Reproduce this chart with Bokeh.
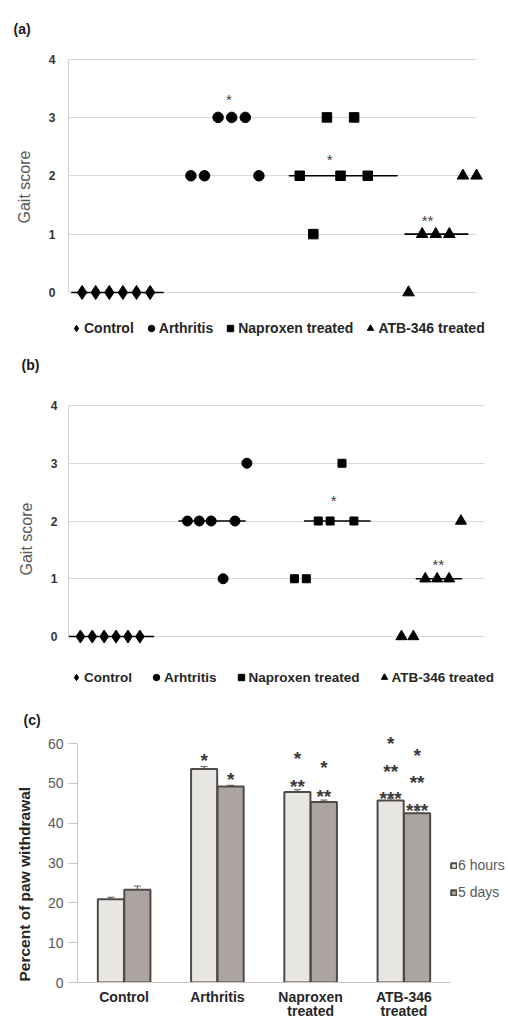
import math
from bokeh.plotting import figure
from bokeh.models import (Legend, LegendItem, FixedTicker, Whisker, TeeHead, Title,
                          ColumnDataSource, Range1d)
from bokeh.layouts import column
from bokeh.core.properties import value
from bokeh.embed import file_html
from bokeh.resources import INLINE

FONT = "Liberation Sans"
GRID = "#d9d9d9"
AXIS = "#d0ccc8"

# ---------------- data: panel (a) ----------------
a_labels = ["Control", "Arthritis", "Naproxen treated", "ATB-346 treated"]
a_control_x = [1, 2, 3, 4, 5, 6]
a_control_y = [0, 0, 0, 0, 0, 0]
a_arthritis_x = [9, 10, 11, 12, 13, 14]
a_arthritis_y = [2, 2, 3, 3, 3, 2]
a_naproxen_x = [17, 18, 19, 20, 21, 22]
a_naproxen_y = [2, 1, 3, 2, 3, 2]
a_atb_x = [25, 26, 27, 28, 29, 30]
a_atb_y = [0, 1, 1, 1, 2, 2]
a_median_y = [0, 2, 1]
a_median_x0 = [0.2, 16.2, 24.7]
a_median_x1 = [7.0, 24.2, 29.4]
a_sig_x = [11.8, 19.2, 26.4]
a_sig_y = [3.35, 2.33, 1.28]
a_sig_text = ["*", "*", "**"]

# ---------------- data: panel (b) ----------------
b_labels = ["Control", "Arhtritis", "Naproxen treated", "ATB-346 treated"]
b_control_x = [1, 2, 3, 4, 5, 6]
b_control_y = [0, 0, 0, 0, 0, 0]
b_arthritis_x = [10, 11, 12, 13, 14, 15]
b_arthritis_y = [2, 2, 2, 1, 2, 3]
b_naproxen_x = [19, 20, 21, 22, 23, 24]
b_naproxen_y = [1, 1, 2, 2, 3, 2]
b_atb_x = [28, 29, 30, 31, 32, 33]
b_atb_y = [0, 0, 1, 1, 1, 2]
b_median_y = [0, 2, 2, 1]
b_median_x0 = [0.0, 9.25, 19.8, 29.2]
b_median_x1 = [7.2, 14.9, 25.4, 33.1]
b_sig_x = [22.3, 31.1]
b_sig_y = [2.4, 1.3]
b_sig_text = ["*", "**"]

# ---------------- data: panel (c) ----------------
c_categories = ["Control", "Arthritis", "Naproxen\ntreated", "ATB-346\ntreated"]
c_series = ["6 hours", "5 days"]
c_6h = [20.9, 53.6, 47.8, 45.7]
c_6h_err = [0.5, 0.6, 0.6, 0.6]
c_5d = [23.3, 49.2, 45.3, 42.5]
c_5d_err = [0.9, 0.3, 0.5, 0.8]
c_sig_6h_text = ["*", "*", "**", "*", "**", "***"]
c_sig_6h_cat = [1, 2, 2, 3, 3, 3]
c_sig_6h_y = [56.8, 57.3, 50.3, 61.1, 54.0, 47.2]
c_sig_5d_text = ["*", "*", "**", "*", "**", "***"]
c_sig_5d_cat = [1, 2, 2, 3, 3, 3]
c_sig_5d_y = [52.0, 55.0, 47.7, 58.0, 51.3, 44.2]

W = 508
LEFT = 68


def style_title(p, offset, standoff):
    t = p.title
    t.align = "left"
    t.offset = offset
    t.standoff = standoff
    t.text_font = FONT
    t.text_font_size = "14px"
    t.text_font_style = "bold"
    t.text_color = "#1a1a1a"


def side_title(p, text, offset, standoff, size, bold, color):
    t = Title(text=text, align="left", offset=offset, standoff=standoff,
              vertical_align="bottom", text_font=FONT, text_font_size=size,
              text_font_style="bold" if bold else "normal", text_color=color)
    p.add_layout(t, "left")


def gait_panel(height, top, xr, yr, xmax, groups, labels, sizes, medians, sig,
               tag, tag_offset, tag_standoff, ylab_offset, ylab_standoff,
               legend_loc, legend_spacing, legend_font, tick_standoff):
    p = figure(width=W, height=height, x_range=Range1d(*xr), y_range=Range1d(*yr),
               min_border_left=LEFT, min_border_right=0, min_border_top=top,
               min_border_bottom=0, x_axis_location=None, toolbar_location=None,
               output_backend="svg", outline_line_color=None, title=tag)
    style_title(p, tag_offset, tag_standoff)
    p.xgrid.visible = False
    ax = p.yaxis[0]
    ax.ticker = FixedTicker(ticks=[0, 1, 2, 3, 4])
    ax.bounds = (0, 4)
    ax.axis_line_color = AXIS
    ax.major_tick_line_color = None
    ax.minor_tick_line_color = None
    ax.major_tick_out = 0
    ax.major_tick_in = 0
    ax.major_label_standoff = tick_standoff
    ax.major_label_text_font = FONT
    ax.major_label_text_font_size = "12px"
    ax.major_label_text_font_style = "bold"
    ax.major_label_text_color = "#333333"
    g = p.ygrid[0]
    g.grid_line_color = GRID
    g.ticker = FixedTicker(ticks=[0, 1, 2, 3, 4])
    if hasattr(g, "cross_bounds"):
        g.cross_bounds = (0, xmax)

    p.segment(x0=medians[1], x1=medians[2], y0=medians[0], y1=medians[0],
              line_color="black", line_width=1.6)
    markers = ["diamond", "circle", "square", "triangle"]
    rends = []
    for (gx, gy), m, s in zip(groups, markers, sizes):
        r = p.scatter(gx, gy, marker=m, size=s, fill_color="black", line_color="black")
        rends.append(r)
    p.text(x=sig[0], y=sig[1], text=sig[2], text_align="center", text_baseline="middle",
           text_font=value(FONT), text_font_size="15px", text_color="#404040", y_offset=3)

    leg = Legend(items=[LegendItem(label=l, renderers=[r]) for l, r in zip(labels, rends)],
                 orientation="horizontal", location=legend_loc, spacing=legend_spacing,
                 padding=0, margin=0, glyph_width=16, glyph_height=16, label_standoff=-2,
                 label_height=16, label_text_font=FONT, label_text_font_size=legend_font,
                 label_text_font_style="bold", label_text_color="#262626",
                 border_line_color=None, background_fill_alpha=0)
    p.add_layout(leg)
    side_title(p, "Gait score", ylab_offset, ylab_standoff, "16px", False, "#595959")
    return p


# panel (a): frame 45..340, y=4 at 58.5, y=0 at 292 ; x=0 at 68, 13.6 px / unit
pa = gait_panel(340, 45, (0, 32.35), (-0.8223, 4.2313), 30,
                [(a_control_x, a_control_y), (a_arthritis_x, a_arthritis_y),
                 (a_naproxen_x, a_naproxen_y), (a_atb_x, a_atb_y)],
                a_labels, [14, 10.5, 9.5, 11.5],
                (a_median_y, a_median_x0, a_median_x1),
                (a_sig_x, a_sig_y, a_sig_text),
                "(a)", -55, 18, 117, 25, (0, 4), 9, "14px", 13)

# panel (b): frame 45..350, y=4 at 65, y=0 at 296 ; x=0 at 68, 11.89 px / unit
pb = gait_panel(350, 45, (0, 37.0), (-0.935, 4.3463), 35,
                [(b_control_x, b_control_y), (b_arthritis_x, b_arthritis_y),
                 (b_naproxen_x, b_naproxen_y), (b_atb_x, b_atb_y)],
                b_labels, [13, 10, 8, 11],
                (b_median_y, b_median_x0, b_median_x1),
                (b_sig_x, b_sig_y, b_sig_text),
                "(b)", -47, 25, 115, 26, (0, 5), 16, "13.5px", 11)

# ---------------- panel (c) ----------------
pc = figure(width=W, height=331, x_range=Range1d(-0.0965, 4.622), y_range=Range1d(0, 63.77),
            min_border_left=LEFT, min_border_right=0, min_border_top=38, min_border_bottom=39,
            toolbar_location=None, output_backend="svg", outline_line_color=None, title="(c)")
style_title(pc, -45, 2)
pc.xgrid.visible = False
pc.ygrid.visible = False

dodge = 0.142
bw = 0.28
x6 = [i + 0.5 - dodge for i in range(len(c_categories))]
x5 = [i + 0.5 + dodge for i in range(len(c_categories))]
r6 = pc.vbar(x=x6, top=c_6h, width=bw, bottom=0, fill_color="#e8e6e3",
             line_color="#4f4a48", line_width=2)
r5 = pc.vbar(x=x5, top=c_5d, width=bw, bottom=0, fill_color="#aca4a0",
             line_color="#4f4a48", line_width=2)
for xs, vals, errs in ((x6, c_6h, c_6h_err), (x5, c_5d, c_5d_err)):
    src = ColumnDataSource(dict(base=xs, upper=[v + e for v, e in zip(vals, errs)],
                                lower=[v - e for v, e in zip(vals, errs)]))
    pc.add_layout(Whisker(source=src, base="base", upper="upper", lower="lower",
                          line_color="#555555", line_width=1,
                          upper_head=TeeHead(size=7, line_color="#555555", line_width=1),
                          lower_head=TeeHead(size=7, line_color="#555555", line_width=1)))

pc.text(x=[x6[i] for i in c_sig_6h_cat], y=c_sig_6h_y, text=c_sig_6h_text,
        text_align="center", text_baseline="middle", text_font=value(FONT),
        text_font_size="19px", text_font_style="bold", text_color="#3a3a3a", y_offset=4)
pc.text(x=[x5[i] for i in c_sig_5d_cat], y=c_sig_5d_y, text=c_sig_5d_text,
        text_align="center", text_baseline="middle", text_font=value(FONT),
        text_font_size="19px", text_font_style="bold", text_color="#3a3a3a", y_offset=4)

c_ticks = [0, 10, 20, 30, 40, 50, 60]
# value axis line (drawn at x = 0, where the category axis starts)
pc.segment(x0=[0], x1=[0], y0=[min(c_ticks)], y1=[max(c_ticks)], line_color="#cbc4c0",
           line_width=1)

yax = pc.yaxis[0]
yax.ticker = FixedTicker(ticks=c_ticks)
yax.bounds = (0, 60)
yax.axis_line_color = None
yax.major_tick_line_color = "#cbc4c0"
yax.major_tick_out = 0
yax.major_tick_in = 9
yax.minor_tick_line_color = None
yax.major_label_standoff = 5
yax.major_label_text_font = FONT
yax.major_label_text_font_size = "14px"
yax.major_label_text_color = "#595959"

xax = pc.xaxis[0]
xax.ticker = FixedTicker(ticks=[i + 0.5 for i in range(len(c_categories))])
xax.major_label_overrides = {i + 0.5: c for i, c in enumerate(c_categories)}
xax.bounds = (0, 4)
xax.axis_line_color = "#cbc4c0"
xax.major_tick_line_color = None
xax.minor_tick_line_color = None
xax.major_tick_out = 0
xax.major_tick_in = 0
xax.major_label_standoff = 6
xax.major_label_text_font = FONT
xax.major_label_text_font_size = "14px"
xax.major_label_text_font_style = "bold"
xax.major_label_text_color = "#262626"
xax.major_label_text_line_height = 0.9

legc = Legend(items=[LegendItem(label=c_series[0], renderers=[r6]),
                     LegendItem(label=c_series[1], renderers=[r5])],
              orientation="vertical", location=(382, 82), spacing=11, padding=0, margin=0,
              glyph_width=7, glyph_height=7, label_height=16, label_standoff=1,
              label_text_font=FONT, label_text_font_size="14px", label_text_color="#595959",
              border_line_color=None, background_fill_alpha=0)
pc.add_layout(legc)

side_title(pc, "Percent of paw withdrawal", 1, 23, "15.5px", True, "#262626")

layout = column(pa, pb, pc, spacing=0)
open("out.html", "w").write(file_html(layout, INLINE))
